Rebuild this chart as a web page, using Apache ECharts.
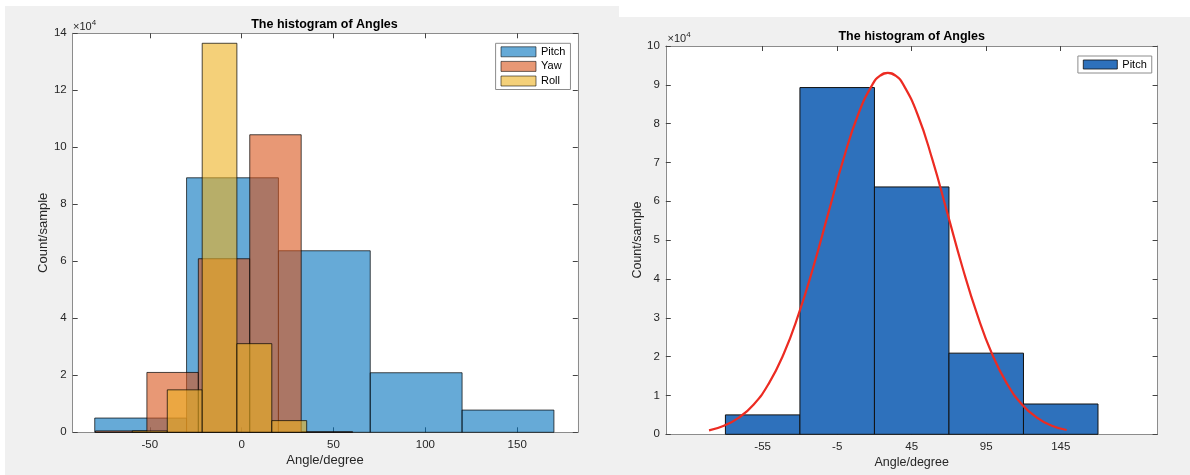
<!DOCTYPE html>
<html><head><meta charset="utf-8">
<script src="https://cdn.jsdelivr.net/npm/echarts@6/dist/echarts.min.js"></script>
<style>
html,body{margin:0;padding:0;background:#f0f0f0;overflow:hidden;}
#l{position:absolute;left:0;top:0;width:600px;height:475px;}
#r{position:absolute;left:600px;top:0;width:590px;height:475px;}
</style>
</head><body><div id="l"></div><div id="r"></div>
<script>
// ---- data (counts in units of 10^4) ----
const pitchEdges = [-80, -30, 20, 70, 120, 170];
const pitchCounts = [0.50, 8.93, 6.37, 2.09, 0.78];
const yawEdges = [-79.6, -51.6, -23.6, 4.4, 32.4, 60.4];
const yawCounts = [0.05, 2.10, 6.09, 10.44, 0.02];
const rollEdges = [-59.6, -40.5, -21.5, -2.6, 16.4, 35.4];
const rollCounts = [0.05, 1.49, 13.65, 3.11, 0.41];
const leftXTicks = [-50, 0, 50, 100, 150];
const rightXTicks = [-55, -5, 45, 95, 145];
// normal fit curve
const fitX = [-91, -81, -71, -61, -51, -41, -31, -21, -11, -1, 9, 19, 24, 29, 34, 39, 49, 59, 69, 79, 89, 99, 109, 119, 129, 139, 149];
const fitY = [0.10, 0.22, 0.43, 0.77, 1.30, 2.06, 3.08, 4.31, 5.69, 7.06, 8.23, 9.03, 9.24, 9.31, 9.24, 9.03, 8.23, 7.06, 5.69, 4.31, 3.08, 2.06, 1.30, 0.77, 0.43, 0.22, 0.11];

const FONT = 'Liberation Sans, Arial, Helvetica, sans-serif';
const AX = '#8c8c8c', TK = '#444', TXT = '#262626';

function bins(edges, counts) { return counts.map((c, i) => [edges[i], edges[i + 1], c]); }

function histSeries(name, edges, counts, fill, stroke, lw) {
  return {
    type: 'custom', name: name, xAxisIndex: 0, yAxisIndex: 0,
    encode: { x: [0, 1], y: 2 },
    itemStyle: { color: fill, borderColor: stroke, borderWidth: lw },
    data: bins(edges, counts),
    renderItem: function (params, api) {
      const p0 = api.coord([api.value(0), api.value(2)]);
      const p1 = api.coord([api.value(1), 0]);
      return { type: 'rect', shape: { x: p0[0], y: p0[1], width: p1[0] - p0[0], height: p1[1] - p0[1] },
        style: { fill: fill, stroke: stroke, lineWidth: lw } };
    }
  };
}

function boxAxes(xmin, xmax, xticks, ymax, yint, fs) {
  const line = { show: true, onZero: false, lineStyle: { color: AX, width: 1 } };
  return {
    xAxis: [
      { type: 'value', min: xmin, max: xmax, position: 'bottom', axisLine: line,
        axisTick: { show: true, inside: true, length: 5, customValues: xticks, lineStyle: { color: TK } },
        axisLabel: { customValues: xticks, color: TXT, fontSize: fs, fontFamily: FONT, margin: 7 },
        splitLine: { show: false } },
      { type: 'value', min: xmin, max: xmax, position: 'top', axisLine: line,
        axisTick: { show: true, inside: true, length: 5, customValues: xticks, lineStyle: { color: TK } },
        axisLabel: { show: false }, splitLine: { show: false } }
    ],
    yAxis: [
      { type: 'value', min: 0, max: ymax, interval: yint, position: 'left', axisLine: line,
        axisTick: { show: true, inside: true, length: 5, lineStyle: { color: TK } },
        axisLabel: { color: TXT, fontSize: fs, fontFamily: FONT, margin: 6 },
        splitLine: { show: false } },
      { type: 'value', min: 0, max: ymax, interval: yint, position: 'right', axisLine: line,
        axisTick: { show: true, inside: true, length: 5, lineStyle: { color: TK } },
        axisLabel: { show: false }, splitLine: { show: false } }
    ]
  };
}

function txt(x, y, s, size, bold, rot) {
  return { type: 'text', x: x, y: y, rotation: rot || 0, z: 10,
    style: { text: s, fill: bold ? '#000' : TXT, font: (bold ? 'bold ' : '') + size + 'px ' + FONT, align: 'center', verticalAlign: 'middle' } };
}
function exp4(x, y) {
  return { type: 'text', x: x, y: y, z: 10,
    style: { text: '{a|×10}{b|4}', align: 'left', verticalAlign: 'middle',
      rich: { a: { fontSize: 11, fontFamily: FONT, fill: TXT, color: TXT },
              b: { fontSize: 8, fontFamily: FONT, color: TXT, fill: TXT, padding: [0, 0, 8, 0] } } } };
}

// ---- left chart ----
const lc = echarts.init(document.getElementById('l'), null, { renderer: 'canvas' });
const la = boxAxes(-92, 183, leftXTicks, 14, 2, 11.5);
lc.setOption({
  backgroundColor: '#f0f0f0', animation: false,
  grid: { left: 72.7, top: 33.3, right: 600 - 577.8, bottom: 475 - 432.3, show: true, backgroundColor: '#fff', borderWidth: 0 },
  xAxis: la.xAxis, yAxis: la.yAxis,
  legend: { orient: 'vertical', left: 495.6, top: 43.3, padding: [3, 5, 3, 5], itemGap: 3.6, itemWidth: 35, itemHeight: 10,
    backgroundColor: '#fff', borderColor: '#8c8c8c', borderWidth: 1, selectedMode: false,
    itemStyle: { borderWidth: 0.8 },
    textStyle: { fontSize: 11, fontFamily: FONT, color: '#000', lineHeight: 10 },
    icon: 'rect', data: ['Pitch', 'Yaw', 'Roll'] },
  graphic: [
    { type: 'rect', shape: { x: 0, y: 0, width: 600, height: 6 }, style: { fill: '#fff' } },
    { type: 'rect', shape: { x: 0, y: 0, width: 5, height: 475 }, style: { fill: '#fff' } },
    txt(324.5, 24.3, 'The histogram of Angles', 12.5, true),
    txt(325, 460, 'Angle/degree', 13, false),
    txt(43.2, 232.8, 'Count/sample', 13, false, Math.PI / 2),
    exp4(73, 27)
  ],
  series: [
    histSeries('Pitch', pitchEdges, pitchCounts, 'rgba(0,114,189,0.6)', 'rgba(0,0,0,0.7)', 1),
    histSeries('Yaw', yawEdges, yawCounts, 'rgba(217,83,25,0.6)', 'rgba(0,0,0,0.7)', 1),
    histSeries('Roll', rollEdges, rollCounts, 'rgba(237,177,32,0.6)', 'rgba(0,0,0,0.7)', 1)
  ]
});

// ---- right chart ----
const rc = echarts.init(document.getElementById('r'), null, { renderer: 'canvas' });
const ra = boxAxes(-120, 210, rightXTicks, 10, 1, 11.5);
rc.setOption({
  backgroundColor: '#f0f0f0', animation: false,
  grid: { left: 65.8, top: 46, right: 590 - 557.6, bottom: 475 - 434.3, show: true, backgroundColor: '#fff', borderWidth: 0 },
  xAxis: ra.xAxis, yAxis: ra.yAxis,
  legend: { orient: 'vertical', left: 477.9, top: 56, padding: [3, 5, 3, 5], itemWidth: 34, itemHeight: 9,
    backgroundColor: '#fff', borderColor: '#8c8c8c', borderWidth: 1, selectedMode: false,
    itemStyle: { borderWidth: 0.8 },
    textStyle: { fontSize: 11, fontFamily: FONT, color: '#000', lineHeight: 10 },
    icon: 'rect', data: ['Pitch'] },
  graphic: [
    { type: 'rect', shape: { x: 19, y: 0, width: 571, height: 17 }, style: { fill: '#fff' } },
    { type: 'rect', shape: { x: 0, y: 0, width: 19, height: 6 }, style: { fill: '#fff' } },
    txt(311.7, 36.7, 'The histogram of Angles', 12.5, true),
    txt(311.7, 462.3, 'Angle/degree', 12.5, false),
    txt(37.6, 240, 'Count/sample', 12.5, false, Math.PI / 2),
    exp4(67.5, 39)
  ],
  series: [
    histSeries('Pitch', pitchEdges, pitchCounts, '#2e71bc', '#111', 1),
    { type: 'line', name: 'fit', xAxisIndex: 0, yAxisIndex: 0, smooth: true, showSymbol: false, symbol: 'none',
      lineStyle: { color: '#ec2b22', width: 2.2 }, data: fitX.map((x, i) => [x, fitY[i]]), z: 5 }
  ]
});
</script>
</body></html>
